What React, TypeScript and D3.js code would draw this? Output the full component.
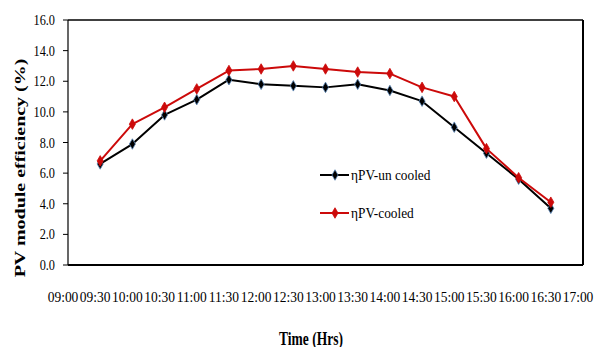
import {useEffect, useRef} from "react";
import * as d3 from "d3";

// half-hour slots, 0 = 09:00 ... 16 = 17:00
const timeLabels = ["09:00", "09:30", "10:00", "10:30", "11:00", "11:30", "12:00", "12:30", "13:00",
    "13:30", "14:00", "14:30", "15:00", "15:30", "16:00", "16:30", "17:00"];
const dataSlots = [1, 2, 3, 4, 5, 6, 7, 8, 9, 10, 11, 12, 13, 14, 15];
const unCooled = [6.6, 7.9, 9.8, 10.8, 12.1, 11.8, 11.7, 11.6, 11.8, 11.4, 10.7, 9.0, 7.3, 5.6, 3.7];
const cooled = [6.8, 9.2, 10.3, 11.5, 12.7, 12.8, 13.0, 12.8, 12.6, 12.5, 11.6, 11.0, 7.6, 5.7, 4.1];
const yTicks = [0, 2, 4, 6, 8, 10, 12, 14, 16];

const series = [
    {name: "\u03b7PV-un cooled", values: unCooled, color: "#000000", edge: "#5b86b8"},
    {name: "\u03b7PV-cooled", values: cooled, color: "#cc0a0a", edge: "#cc0a0a"},
];

function App() {
    const ref = useRef<SVGSVGElement>(null);

    useEffect(() => {
        const width = 595, height = 347;
        const margin = {top: 20, right: 12, bottom: 82, left: 68};
        const svg = d3.select(ref.current);
        svg.selectAll("*").remove();

        const x = d3.scaleLinear().domain([0, timeLabels.length - 1]).range([margin.left, width - margin.right]);
        const y = d3.scaleLinear().domain([0, 16]).range([height - margin.bottom, margin.top]);

        const font = "\"Liberation Serif\", \"Times New Roman\", serif";

        // frame
        svg.append("line").attr("x1", x(0)).attr("x2", x(16)).attr("y1", y(16)).attr("y2", y(16))
            .attr("stroke", "#000").attr("stroke-width", 1.5);
        svg.append("line").attr("x1", x(16)).attr("x2", x(16)).attr("y1", y(16)).attr("y2", y(0))
            .attr("stroke", "#000").attr("stroke-width", 2);
        svg.append("line").attr("x1", x(0)).attr("x2", x(16)).attr("y1", y(0)).attr("y2", y(0))
            .attr("stroke", "#000").attr("stroke-width", 2);
        svg.append("line").attr("x1", x(0)).attr("x2", x(0)).attr("y1", y(16)).attr("y2", y(0))
            .attr("stroke", "#000").attr("stroke-width", 1.2);

        // y ticks
        const yt = svg.append("g");
        yTicks.forEach(t => {
            yt.append("line").attr("x1", x(0) - 5).attr("x2", x(0)).attr("y1", y(t)).attr("y2", y(t))
                .attr("stroke", "#000").attr("stroke-width", 1);
            yt.append("text")
                .attr("transform", `translate(${x(0) - 13},${y(t) + 5}) scale(0.82,1)`)
                .attr("text-anchor", "end")
                .style("font-family", font).attr("font-size", 15)
                .text(t.toFixed(1));
        });

        // x tick labels (they nearly touch each other in the original)
        timeLabels.forEach((l, i) => {
            svg.append("text")
                .attr("transform", `translate(${x(i) - 5},${302}) scale(0.93,1)`)
                .attr("text-anchor", "middle")
                .style("font-family", font).attr("font-size", 14.5)
                .text(l);
        });

        // titles
        svg.append("text")
            .attr("transform", `translate(311,345) scale(0.75,1)`)
            .attr("text-anchor", "middle")
            .style("font-family", font).attr("font-size", 18).attr("font-weight", "bold")
            .text("Time (Hrs)");
        svg.append("text")
            .attr("transform", `translate(25,168) scale(0.75,1) rotate(-90)`)
            .attr("text-anchor", "middle")
            .style("font-family", font).attr("font-size", 20).attr("font-weight", "bold")
            .text("PV module efficiency (%)");

        const line = d3.line<number>()
            .x((d, i) => x(dataSlots[i]))
            .y(d => y(d));
        const diamond = d3.symbol(d3.symbolDiamond, 32)();

        series.forEach(s => {
            svg.append("path").datum(s.values)
                .attr("d", line)
                .attr("fill", "none")
                .attr("stroke", s.color)
                .attr("stroke-width", 2)
                .attr("stroke-linejoin", "round");
            svg.append("g").selectAll("path")
                .data(s.values)
                .enter().append("path")
                .attr("d", diamond)
                .attr("transform", (d, i) => `translate(${x(dataSlots[i])},${y(d)})`)
                .attr("fill", s.color)
                .attr("stroke", s.edge)
                .attr("stroke-width", 0.8);
        });

        // legend
        series.forEach((s, i) => {
            const ly = 175 + i * 38;
            svg.append("line").attr("x1", 320).attr("x2", 349).attr("y1", ly).attr("y2", ly)
                .attr("stroke", s.color).attr("stroke-width", 2);
            svg.append("path").attr("d", diamond)
                .attr("transform", `translate(335,${ly})`)
                .attr("fill", s.color).attr("stroke", s.edge).attr("stroke-width", 0.8);
            svg.append("text")
                .attr("transform", `translate(351,${ly + 5}) scale(0.92,1)`)
                .style("font-family", font).attr("font-size", 14.5)
                .text(s.name);
        });
    }, []);

    return <div style={{position: "absolute", left: 0, top: 0, width: 595, height: 347, background: "#fff"}}>
        <svg ref={ref} width={595} height={347}></svg>
    </div>
}

export default App;
